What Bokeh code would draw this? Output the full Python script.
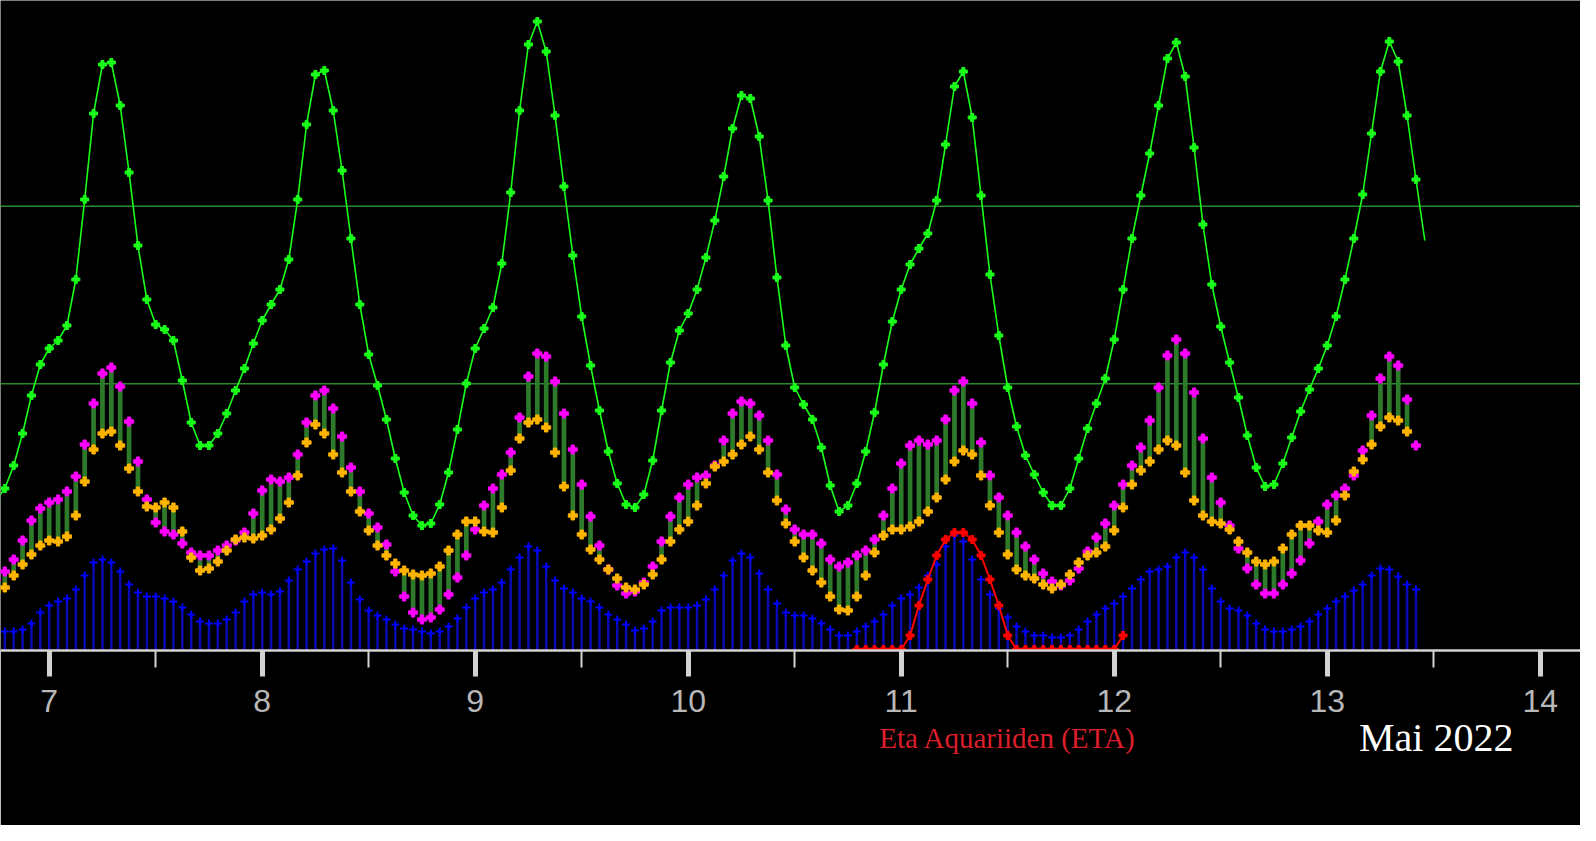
from bokeh.plotting import figure
from bokeh.models import Range1d, FixedTicker, Span, ColumnDataSource, LinearAxis
from bokeh.embed import file_html
from bokeh.resources import INLINE

# time axis: day of May 2022, hourly samples
start_day = 6.75          # May 6, 18:00
red_start_day = 7 + 91 / 24
step = 1 / 24

day_ticks = [7, 8, 9, 10, 11, 12, 13, 14]
half_day_ticks = [6.5, 7.5, 8.5, 9.5, 10.5, 11.5, 12.5, 13.5, 14.5]
ref_levels = [266.7, 444.3]
shower_label = "Eta Aquariiden (ETA)"
shower_label_pos = 11.5
month_label = "Mai 2022"
month_label_pos = 13.512

green = [150, 162, 185, 217, 255, 286,
         302, 310, 325, 371, 451, 537, 586, 588, 545, 478, 405, 351, 326, 321, 310, 270, 228, 205, 205, 217, 237, 260, 282, 307,
         330, 346, 361, 391, 451, 526, 576, 580, 540, 480, 412, 346, 296, 265, 231, 192, 158, 135, 125, 127, 146, 178, 221, 267,
         302, 322, 343, 387, 458, 540, 606, 629, 599, 535, 464, 395, 334, 285, 240, 199, 167, 146, 143, 156, 190, 240, 288, 320,
         337, 361, 393, 430, 474, 522, 555, 552, 514, 450, 373, 305, 263, 246, 231, 203, 165, 139, 145, 167, 199, 238, 286, 329,
         361, 386, 402, 417, 450, 506, 564, 579, 533, 455, 376, 315, 263, 224, 195, 176, 158, 145, 145, 162, 192, 222, 247, 272,
         311, 361, 412, 455, 497, 545, 592, 608, 574, 503, 426, 366, 324, 288, 253, 215, 183, 164, 166, 187, 213, 239, 261, 282,
         305, 334, 371, 412, 456, 517, 579, 609, 589, 535, 471, 410]

magenta = [71, 79, 91, 110, 130, 142,
           148, 151, 159, 174, 206, 247, 277, 283, 264, 229, 189, 151, 128, 119, 116, 107, 98, 95, 95, 100, 105, 110, 118, 137,
           160, 171, 169, 173, 196, 228, 255, 260, 242, 214, 183, 159, 137, 123, 106, 79, 54, 38, 31, 33, 41, 56, 73, 95,
           121, 145, 162, 176, 198, 233, 274, 297, 294, 269, 237, 201, 166, 134, 105, 81, 65, 57, 59, 68, 84, 109, 134, 153,
           166, 173, 175, 185, 210, 237, 249, 247, 235, 210, 176, 141, 121, 116, 116, 107, 91, 84, 88, 95, 100, 111, 135, 162,
           187, 205, 210, 206, 210, 231, 260, 269, 247, 208, 175, 153, 135, 118, 104, 91, 77, 69, 65, 70, 82, 99, 113, 127,
           145, 166, 185, 203, 230, 263, 295, 311, 297, 258, 212, 173, 148, 125, 102, 82, 66, 57, 57, 66, 77, 90, 107, 129,
           146, 155, 162, 175, 200, 235, 272, 294, 285, 251, 205]

orange = [59, 63, 75, 86, 96, 105,
          110, 109, 114, 135, 169, 201, 217, 219, 205, 182, 159, 144, 143, 148, 143, 119, 93, 80, 82, 89, 100, 111, 113, 112,
          115, 121, 132, 148, 175, 208, 226, 217, 196, 178, 159, 139, 120, 105, 95, 87, 80, 76, 75, 77, 84, 100, 116, 129,
          129, 119, 118, 143, 180, 212, 228, 231, 223, 198, 164, 135, 116, 101, 91, 81, 72, 63, 61, 66, 76, 91, 109, 121,
          129, 145, 167, 184, 189, 196, 206, 214, 201, 178, 150, 127, 109, 93, 80, 68, 54, 41, 40, 54, 75, 98, 115, 121,
          121, 124, 129, 139, 153, 171, 189, 200, 196, 175, 145, 118, 96, 81, 75, 72, 66, 62, 66, 76, 88, 95, 98, 104,
          120, 143, 166, 180, 189, 201, 210, 205, 178, 150, 135, 129, 127, 121, 109, 98, 89, 86, 89, 102, 116, 125, 125, 120,
          118, 130, 155, 179, 191, 206, 224, 233, 230, 219]

blue = [19, 19, 19, 21, 27, 38,
        45, 49, 52, 61, 75, 88, 91, 88, 79, 66, 58, 54, 54, 52, 49, 43, 36, 29, 27, 27, 31, 38, 49, 56,
        58, 56, 59, 70, 81, 89, 97, 101, 102, 90, 68, 51, 40, 35, 31, 26, 22, 21, 19, 17, 19, 24, 32, 43,
        52, 58, 61, 68, 81, 93, 104, 100, 84, 70, 62, 58, 52, 49, 43, 36, 31, 26, 20, 22, 29, 40, 43, 43,
        43, 45, 51, 61, 75, 90, 97, 93, 77, 61, 47, 38, 35, 35, 32, 27, 21, 15, 15, 19, 24, 29, 36, 45,
        52, 56, 63, 75, 86, 104, 115, 109, 91, 71, 56, 42, 33, 24, 19, 15, 15, 13, 13, 15, 21, 29, 36, 42,
        47, 54, 62, 71, 79, 81, 84, 93, 98, 93, 81, 62, 49, 42, 40, 35, 27, 21, 19, 19, 21, 24, 29, 36,
        42, 49, 54, 60, 66, 75, 82, 81, 74, 66, 61]

red_eta = [1, 1, 1, 1, 1, 1, 15, 45, 71, 95, 111, 118, 118, 111, 95, 71, 45, 15,
           1, 1, 1, 1, 1, 1, 1, 1, 1, 1, 1, 1, 15]


def times(n, t0):
    return [t0 + i * step for i in range(n)]


t_green = times(len(green), start_day)
t_mag = times(len(magenta), start_day)
t_ora = times(len(orange), start_day)
t_blue = times(len(blue), start_day)
t_red = times(len(red_eta), red_start_day)

bar_src = ColumnDataSource(dict(
    x=t_ora,
    top=[max(m, o) for m, o in zip(magenta, orange)],
    bottom=[min(m, o) for m, o in zip(magenta, orange)],
))

p = figure(width=1580, height=825,
           x_range=Range1d(6.7714, 14.1892), y_range=Range1d(0, 650),
           output_backend="svg", toolbar_location=None, y_axis_location=None,
           min_border_left=0, min_border_right=0, min_border_top=0, min_border_bottom=175,
           background_fill_color="black", border_fill_color="black")
p.outline_line_color = None
p.grid.visible = False

for lev in ref_levels:
    p.add_layout(Span(location=lev, dimension="width", line_color="#2b8a2b", line_width=1.5, level="underlay"))

# blue stems
p.segment(x0=t_blue, y0=[0] * len(blue), x1=t_blue, y1=blue, line_color="#0a0ab4", line_width=2.5)
p.scatter(t_blue, blue, marker="cross", size=8, line_color="#0000ff", line_width=2)

# red shower curve
p.line(t_red, red_eta, line_color="#ff0000", line_width=2)
p.scatter(t_red, red_eta, marker="plus", size=8, fill_color="#ff0000", line_color="#ff0000")

# green bars between magenta and orange
p.vbar(x="x", top="top", bottom="bottom", width=0.022, source=bar_src, fill_color="#2d7a2a", line_color=None)
p.scatter(t_mag, magenta, marker="plus", size=9, fill_color="#ff00ff", line_color="#ff00ff")
p.scatter(t_ora, orange, marker="plus", size=9, fill_color="#ffb400", line_color="#ffb400")

# green curve
p.line(t_green, green, line_color="#1aff1a", line_width=1.6)
p.scatter(t_green[:-1], green[:-1], marker="plus", size=8, fill_color="#1aff1a", line_color="#1aff1a")

ax = p.xaxis[0]
ax.ticker = FixedTicker(ticks=day_ticks, minor_ticks=half_day_ticks)
ax.axis_line_color = "#d3d3d3"
ax.axis_line_width = 2.5
ax.major_tick_line_color = "#d3d3d3"
ax.major_tick_line_width = 5
ax.major_tick_in = 0
ax.major_tick_out = 26
ax.minor_tick_line_color = "#d3d3d3"
ax.minor_tick_line_width = 2
ax.minor_tick_in = 0
ax.minor_tick_out = 17
ax.major_label_text_font = "Liberation Sans"
ax.major_label_text_font_size = "32px"
ax.major_label_text_color = "#b8b8b8"
ax.major_label_standoff = 13


def text_axis(pos, text, color, size, standoff):
    a = LinearAxis(ticker=FixedTicker(ticks=[pos], minor_ticks=[]),
                   major_label_overrides={pos: text})
    a.axis_line_color = None
    a.major_tick_line_color = None
    a.minor_tick_line_color = None
    a.major_tick_in = 0
    a.major_tick_out = 0
    a.major_label_text_font = "Liberation Serif"
    a.major_label_text_font_size = size
    a.major_label_text_color = color
    a.major_label_standoff = standoff
    return a


p.add_layout(text_axis(shower_label_pos, shower_label, "#dc1e2a", "29px", 7), "below")
p.add_layout(text_axis(month_label_pos, month_label, "white", "40px", -42), "below")

open("out.html", "w").write(file_html(p, INLINE))
